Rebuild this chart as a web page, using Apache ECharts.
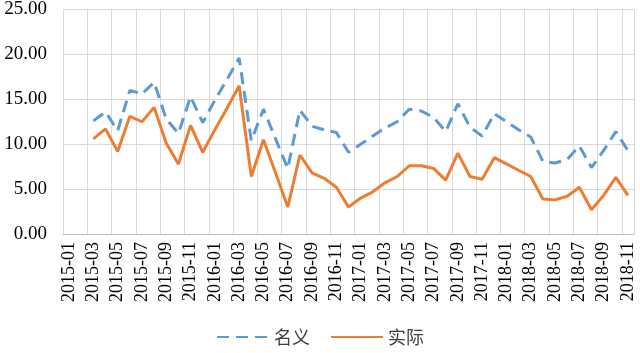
<!DOCTYPE html>
<html>
  <head>
    <meta charset="utf-8" />
    <title>名义 vs 实际</title>
    <script src="https://cdn.jsdelivr.net/npm/echarts@6/dist/echarts.min.js"></script>
  </head>
  <body style="margin:0">
    <div id="main" style="width: 640px;height:353px;"></div>
    <script type="text/javascript">
      // 月份: 2015-01 .. 2018-11
      var months = [];
      for (var y = 2015; y <= 2018; y++) {
        for (var m = 1; m <= 12; m++) {
          if (y === 2018 && m > 11) break;
          months.push(y + '-' + (m < 10 ? '0' + m : m));
        }
      }

      // 从 2015-03 开始
      var nominal = [
        12.6, 13.6, 11.5, 16.0, 15.6, 16.9, 12.8, 11.2, 15.3, 12.4,
        14.9, 17.2, 19.6, 10.4, 13.9, 10.6, 7.3, 13.8, 12.0, 11.6, 11.3, 9.1,
        10.0, 10.9, 11.8, 12.5, 13.9, 13.7, 13.0, 11.4, 14.5, 11.9, 10.9, 13.4,
        12.5, 11.6, 10.8, 8.1, 7.9, 8.3, 9.8, 7.4, 9.3, 11.4, 9.3
      ];
      var real = [
        10.6, 11.7, 9.2, 13.1, 12.5, 14.1, 10.1, 7.8, 12.1, 9.1,
        11.6, 14.0, 16.5, 6.4, 10.5, 6.8, 3.0, 8.8, 6.8, 6.2, 5.2, 3.0,
        4.0, 4.7, 5.7, 6.4, 7.6, 7.6, 7.3, 6.0, 9.0, 6.4, 6.1, 8.5,
        7.8, 7.1, 6.4, 3.9, 3.8, 4.2, 5.2, 2.7, 4.3, 6.3, 4.3
      ];

      var pad = [null, null];
      var myChart = echarts.init(document.getElementById('main'));

      var option = {
        animation: false,
        textStyle: { fontFamily: 'Liberation Serif' },
        legend: {
          bottom: 2,
          left: 'center',
          itemWidth: 52,
          itemHeight: 10,
          itemGap: 20,
          itemStyle: { opacity: 0 },
          textStyle: { fontFamily: 'Noto Sans CJK SC', fontSize: 18, color: '#404040' },
          data: ['名义', '实际']
        },
        grid: { left: 63, right: 6, top: 8, bottom: 119 },
        xAxis: {
          type: 'category',
          data: months,
          boundaryGap: true,
          axisLine: { lineStyle: { color: '#bfbfbf' } },
          axisTick: { interval: 1, length: 5, lineStyle: { color: '#bfbfbf' } },
          axisLabel: {
            interval: 1,
            rotate: 90,
            margin: 8,
            color: '#000',
            fontSize: 18,
            fontFamily: 'Liberation Serif'
          },
          splitLine: { show: true, interval: 1, lineStyle: { color: '#d9d9d9' } }
        },
        yAxis: {
          type: 'value',
          min: 0,
          max: 25,
          interval: 5,
          axisLabel: {
            margin: 16,
            color: '#000',
            fontSize: 19,
            fontFamily: 'Liberation Serif',
            formatter: function (v) { return v.toFixed(2); }
          },
          splitLine: { lineStyle: { color: '#d9d9d9' } }
        },
        series: [
          {
            name: '名义',
            type: 'line',
            symbol: 'none',
            data: pad.concat(nominal),
            itemStyle: { color: '#5b9bd5' },
            lineStyle: { color: '#5b9bd5', width: 3, type: [12, 7] }
          },
          {
            name: '实际',
            type: 'line',
            symbol: 'none',
            data: pad.concat(real),
            itemStyle: { color: '#ed7d31' },
            lineStyle: { color: '#ed7d31', width: 3 }
          }
        ]
      };

      myChart.setOption(option);
    </script>
  </body>
</html>
